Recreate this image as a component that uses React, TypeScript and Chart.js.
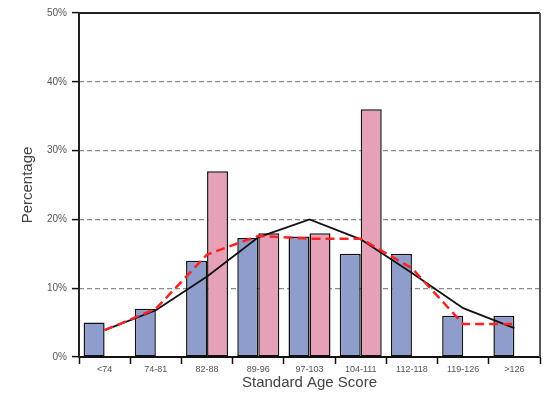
import React, { useEffect, useRef } from "react";
import { Chart, registerables } from "chart.js";

Chart.register(...registerables);

const categories = ["<74", "74-81", "82-88", "89-96", "97-103", "104-111", "112-118", "119-126", ">126"];
const blueValues = [5, 7, 14, 17.3, 17.5, 15, 15, 6, 6];
const pinkValues: (number | null)[] = [null, null, 27, 18, 18, 36, null, null, null];
const blackLine = [3.9, 6.8, 11.7, 17.4, 20, 17.1, 12.2, 7.1, 4.2];
const redLine = [3.9, 7, 14.9, 17.6, 17.2, 17.2, 12.9, 4.8, 4.8];
const yTicks = [0, 10, 20, 30, 40, 50];

const FONT = "Liberation Sans, Arial, sans-serif";

const framePlugin = {
  id: "frame",
  afterDatasetsDraw(chart: any) {
    const { ctx, chartArea } = chart;
    ctx.save();
    ctx.setLineDash([]);
    ctx.lineWidth = 2;
    ctx.strokeStyle = "#222";
    ctx.beginPath();
    ctx.moveTo(chartArea.left, chartArea.top);
    ctx.lineTo(chartArea.right, chartArea.top);
    ctx.stroke();
    ctx.beginPath();
    ctx.moveTo(chartArea.left, chartArea.top - 1);
    ctx.lineTo(chartArea.left, chartArea.bottom + 1);
    ctx.stroke();
    ctx.strokeStyle = "#555";
    ctx.beginPath();
    ctx.moveTo(chartArea.right, chartArea.top);
    ctx.lineTo(chartArea.right, chartArea.bottom);
    ctx.stroke();
    ctx.restore();
  },
};

export default function App() {
  const ref = useRef<HTMLCanvasElement>(null);
  useEffect(() => {
    document.body.style.margin = "0";
    const chart = new Chart(ref.current!, {
      type: "bar",
      data: {
        labels: categories,
        datasets: [
          {
            type: "line",
            label: "red",
            data: redLine,
            borderColor: "#f22",
            borderWidth: 2.5,
            borderDash: [9, 5],
            pointRadius: 0,
            fill: false,
            order: 0,
          } as any,
          {
            type: "line",
            label: "black",
            data: blackLine,
            borderColor: "#111",
            borderWidth: 1.8,
            pointRadius: 0,
            fill: false,
            order: 1,
          } as any,
          {
            label: "blue",
            data: blueValues,
            backgroundColor: "#8f9dcc",
            borderColor: "#111",
            borderWidth: 1.5,
            borderSkipped: false,
            order: 2,
          },
          {
            label: "pink",
            data: pinkValues,
            backgroundColor: "#e6a0b8",
            borderColor: "#111",
            borderWidth: 1.5,
            borderSkipped: false,
            order: 2,
          },
        ],
      },
      options: {
        animation: false,
        responsive: false,
        layout: { padding: { top: 13, right: 4, left: 0, bottom: 0 } },
        datasets: { bar: { categoryPercentage: 0.82, barPercentage: 1 } },
        plugins: { legend: { display: false }, tooltip: { enabled: false } },
        scales: {
          x: {
            grid: {
              offset: true,
              drawOnChartArea: false,
              drawTicks: true,
              tickLength: 7,
              tickColor: "#111",
              tickWidth: 1.5,
            },
            border: { color: "#111", width: 2 },
            ticks: {
              color: "#555",
              font: { family: FONT, size: 9 },
              padding: 0,
              maxRotation: 0,
              autoSkip: false,
            },
            title: {
              display: true,
              text: "Standard Age Score",
              color: "#444",
              font: { family: FONT, size: 15 },
              padding: { top: 0, bottom: 2 },
            },
            afterFit: (s: any) => {
              s.height = 37;
            },
          },
          y: {
            min: 0,
            max: 50,
            afterBuildTicks: (s: any) => {
              s.ticks = yTicks.map((v) => ({ value: v }));
            },
            grid: {
              color: (c: any) => (c.tick && (c.tick.value === 0 || c.tick.value === 50) ? "rgba(0,0,0,0)" : "#8a8a8a"),
              lineWidth: 1.2,
              tickLength: 7,
              tickColor: "#111",
              tickWidth: 1.5,
              tickBorderDash: [],
            } as any,
            border: { display: false, dash: [5, 3] } as any,
            ticks: {
              color: "#555",
              font: { family: FONT, size: 10 },
              padding: 5,
              callback: (v: any) => v + "%",
            },
            title: {
              display: true,
              text: "Percentage",
              color: "#444",
              font: { family: FONT, size: 15 },
              padding: { top: 19, bottom: 0 },
            },
            afterFit: (s: any) => {
              s.width = 79;
            },
          },
        },
      },
      plugins: [framePlugin],
    });
    return () => chart.destroy();
  }, []);
  return (
    <div style={{ position: "fixed", left: 0, top: 0, width: 544, height: 394 }}>
      <canvas ref={ref} width={544} height={394} />
    </div>
  );
}
